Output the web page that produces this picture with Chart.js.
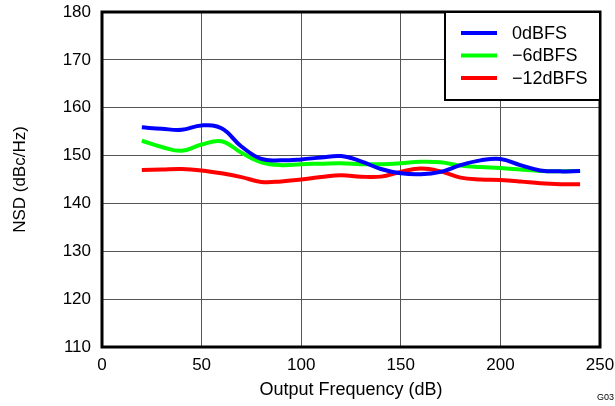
<!DOCTYPE html>
<html>
<head>
<meta charset="utf-8">
<script src="https://cdn.jsdelivr.net/npm/chart.js@4"></script>
<style>
  html, body { margin: 0; padding: 0; background: #fff; }
  #wrap { position: relative; width: 615px; height: 406px; }
</style>
</head>
<body>
<div id="wrap"><canvas id="nsd" width="615" height="406"></canvas></div>
<script>
// output frequency points and NSD
const freq = [20, 30, 40, 50, 60, 70, 80, 90, 100, 110, 120, 130, 140, 150, 160, 170, 180, 190, 200, 210, 220, 230, 240];
const nsd0dB = [155.9, 155.6, 155.4, 156.3, 155.7, 151.9, 149.3, 149.0, 149.2, 149.6, 149.9, 148.8, 147.2, 146.3, 146.1, 146.6, 148.0, 149.0, 149.3, 148.0, 146.9, 146.7, 146.8];
const nsd6dB = [153.1, 151.8, 151.0, 152.3, 153.0, 150.6, 148.6, 148.0, 148.2, 148.3, 148.4, 148.2, 148.2, 148.4, 148.7, 148.6, 147.9, 147.6, 147.4, 147.1, 146.8, 146.7, 146.8];
const nsd12dB = [147.0, 147.1, 147.2, 146.9, 146.3, 145.5, 144.5, 144.6, 145.0, 145.5, 145.9, 145.6, 145.6, 146.6, 147.3, 146.7, 145.4, 145.0, 144.9, 144.6, 144.2, 144.0, 144.0];
const seriesNames = ["0dBFS", "\u22126dBFS", "\u221212dBFS"];
const seriesColors = ["#0000ff", "#00ff00", "#ff0000"];

const FONT = "'Liberation Sans', Arial, sans-serif";

function pts(ys) {
  return freq.map((f, i) => ({ x: f, y: ys[i] }));
}

// frame around the plot + boxed legend + figure id
const framePlugin = {
  id: "frame",
  afterDatasetsDraw(chart) {
    const { ctx, chartArea: a } = chart;
    ctx.save();
    ctx.strokeStyle = "#000";
    ctx.lineWidth = 3;
    ctx.strokeRect(a.left, a.top, a.right - a.left, a.bottom - a.top);

    // legend box in top right corner
    const bx = 445, by = a.top, bw = a.right - bx, bh = 88;
    ctx.fillStyle = "#fff";
    ctx.fillRect(bx, by, bw, bh);
    ctx.lineWidth = 2;
    ctx.strokeRect(bx, by, bw, bh);
    ctx.font = "18px " + FONT;
    ctx.textBaseline = "middle";
    chart.data.datasets.forEach((ds, i) => {
      const y = by + 21 + i * 22.5;
      ctx.strokeStyle = ds.borderColor;
      ctx.lineWidth = 4;
      ctx.beginPath();
      ctx.moveTo(461, y);
      ctx.lineTo(497, y);
      ctx.stroke();
      ctx.fillStyle = "#000";
      ctx.fillText(ds.label, 512, y + 1);
    });

    ctx.font = "9px " + FONT;
    ctx.fillStyle = "#000";
    ctx.fillText("G03", 597, 398);
    ctx.restore();
  }
};

new Chart(document.getElementById("nsd"), {
  type: "line",
  data: {
    datasets: [nsd0dB, nsd6dB, nsd12dB].map((ys, i) => ({
      label: seriesNames[i],
      data: pts(ys),
      borderColor: seriesColors[i],
      borderWidth: 4,
      pointRadius: 0,
      tension: 0.4,
      fill: false
    }))
  },
  options: {
    responsive: false,
    animation: false,
    layout: { padding: { left: 0, right: 15, top: 12, bottom: 0 } },
    plugins: {
      legend: { display: false },
      tooltip: { enabled: false }
    },
    scales: {
      x: {
        type: "linear",
        min: 0,
        max: 250,
        ticks: { stepSize: 50, padding: 8, color: "#000", font: { family: FONT, size: 17 } },
        grid: { color: "#555", lineWidth: 1, drawTicks: false },
        border: { display: false },
        title: {
          display: true,
          text: "Output Frequency (dB)",
          color: "#000",
          font: { family: FONT, size: 18 },
          padding: { top: 4, bottom: 5 }
        },
        afterFit(scale) {
          scale.height = 59;
          scale.paddingLeft = 0;
          scale.paddingRight = 0;
        }
      },
      y: {
        min: 110,
        max: 180,
        ticks: { stepSize: 10, padding: 11, color: "#000", font: { family: FONT, size: 17 } },
        grid: { color: "#555", lineWidth: 1, drawTicks: false },
        border: { display: false },
        title: {
          display: true,
          text: "NSD (dBc/Hz)",
          color: "#000",
          font: { family: FONT, size: 17 },
          padding: { top: 10, bottom: 0 }
        },
        afterFit(scale) {
          scale.width = 102;
          scale.paddingTop = 0;
          scale.paddingBottom = 0;
        }
      }
    }
  },
  plugins: [framePlugin]
});
</script>
</body>
</html>
